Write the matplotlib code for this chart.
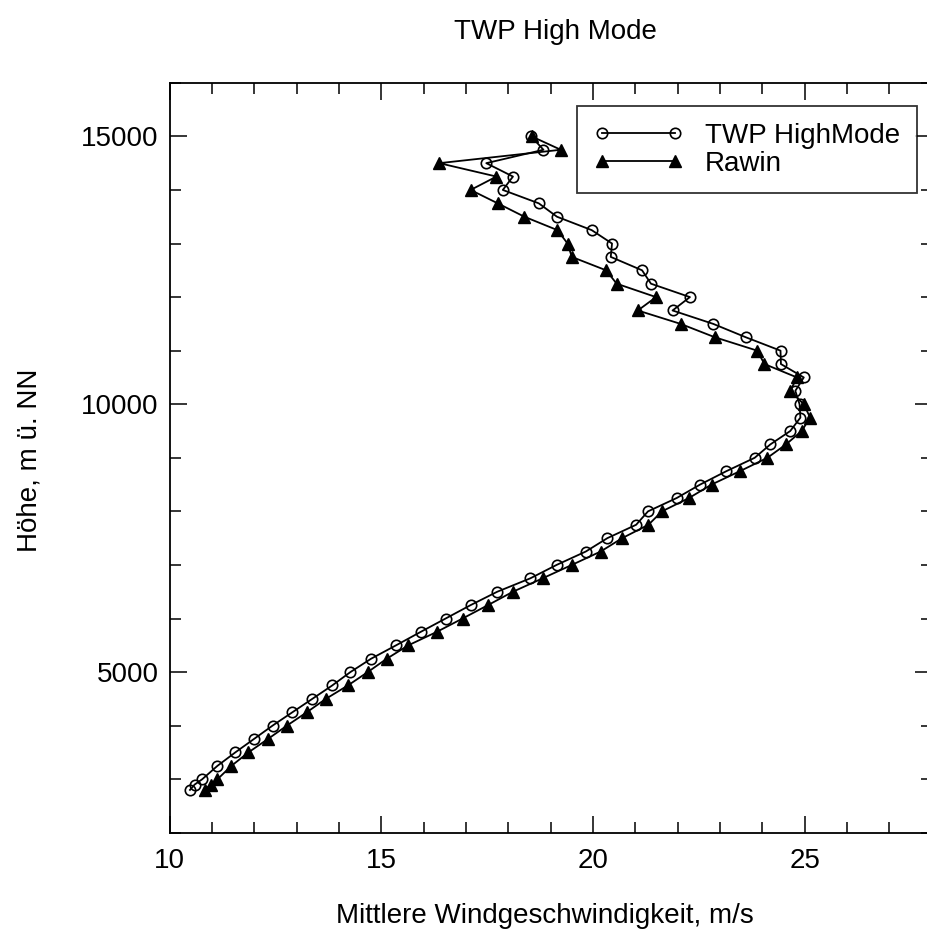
import matplotlib.pyplot as plt
from matplotlib.ticker import MultipleLocator

plt.rcParams['font.family'] = ['Liberation Sans', 'DejaVu Sans']

# heights (m) of the profile levels
hoehe = [15000, 14750, 14500, 14250, 14000, 13750, 13500, 13250, 13000, 12750,
         12500, 12250, 12000, 11750, 11500, 11250, 11000, 10750, 10500, 10250,
         10000, 9750, 9500, 9250, 9000, 8750, 8500, 8250, 8000, 7750,
         7500, 7250, 7000, 6750, 6500, 6250, 6000, 5750, 5500, 5250,
         5000, 4750, 4500, 4250, 4000, 3750, 3500, 3250, 3000, 2900, 2800]

twp = [18.54, 18.83, 17.48, 18.11, 17.87, 18.72, 19.15, 19.97, 20.45, 20.42,
       21.16, 21.37, 22.29, 21.88, 22.84, 23.61, 24.43, 24.44, 24.98, 24.78,
       24.88, 24.90, 24.66, 24.19, 23.82, 23.15, 22.53, 21.98, 21.30, 21.02,
       20.34, 19.83, 19.14, 18.52, 17.74, 17.11, 16.52, 15.93, 15.35, 14.76,
       14.27, 13.84, 13.37, 12.90, 12.43, 11.99, 11.55, 11.13, 10.77, 10.59, 10.48]

rawin = [18.55, 19.24, 16.37, 17.72, 17.11, 17.75, 18.38, 19.16, 19.40, 19.50,
         20.31, 20.56, 21.49, 21.06, 22.07, 22.88, 23.88, 24.05, 24.82, 24.66,
         24.98, 25.13, 24.93, 24.56, 24.12, 23.47, 22.80, 22.27, 21.63, 21.31,
         20.69, 20.18, 19.50, 18.81, 18.11, 17.52, 16.92, 16.31, 15.64, 15.13,
         14.68, 14.21, 13.69, 13.24, 12.77, 12.32, 11.86, 11.46, 11.13, 10.97, 10.83]

fig = plt.figure(figsize=(9.27, 9.41), dpi=100)
ax = fig.add_axes([0.183, 0.115, 0.822, 0.797])

ax.plot(twp, hoehe, color='black', lw=1.3, marker='o', ms=7.5,
        mfc='none', mec='black', mew=1.2, label='TWP HighMode')
ax.plot(rawin, hoehe, color='black', lw=1.3, marker='^', ms=8,
        mfc='black', mec='black', label='Rawin')

ax.set_xlim(10, 28)
ax.set_ylim(2000, 16000)
ax.xaxis.set_major_locator(MultipleLocator(5))
ax.xaxis.set_minor_locator(MultipleLocator(1))
ax.yaxis.set_major_locator(MultipleLocator(5000))
ax.yaxis.set_minor_locator(MultipleLocator(1000))
ax.tick_params(which='both', direction='in', top=True, right=True,
               labelsize=20, width=1.1)
ax.tick_params(which='major', length=12)
ax.tick_params(which='minor', length=8)
ax.tick_params(axis='x', pad=11)
ax.tick_params(axis='y', pad=8)
for s in ax.spines.values():
    s.set_linewidth(1.3)

ax.set_xlabel('Mittlere Windgeschwindigkeit, m/s', fontsize=20)
ax.xaxis.set_label_coords(0.493, -0.094)
ax.set_ylabel('Höhe, m ü. NN', fontsize=20)
ax.yaxis.set_label_coords(-0.167, 0.497)
ax.set_title('TWP High Mode', fontsize=20, x=0.506, y=1.059, pad=0)

leg = ax.legend(loc='upper right', bbox_to_anchor=(0.999, 0.987), fontsize=20,
                numpoints=2, handlelength=3.2, handletextpad=0.8,
                labelspacing=0.05, borderpad=0.6, frameon=True, fancybox=False)
leg.get_frame().set_edgecolor('black')
leg.get_frame().set_linewidth(1.3)

fig.savefig('out.png', dpi=100)
